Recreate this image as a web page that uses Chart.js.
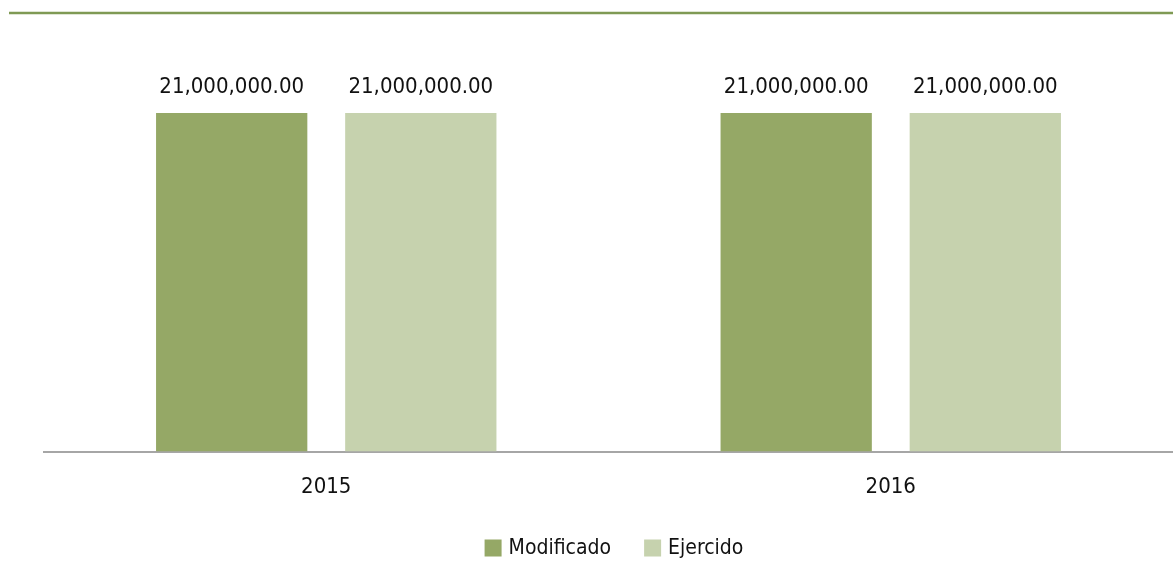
<!DOCTYPE html>
<html>
<head>
<meta charset="utf-8">
<script src="https://cdn.jsdelivr.net/npm/chart.js@4/dist/chart.umd.min.js"></script>
<style>
html,body{margin:0;padding:0;background:#fff;}
#wrap{width:1173px;height:562px;position:relative;}
</style>
</head>
<body>
<div id="wrap"><canvas id="c" width="1173" height="562"></canvas></div>
<script>
const categories = ["2015", "2016"];
const seriesNames = ["Modificado", "Ejercido"];
const modificado = [21000000, 21000000];
const ejercido = [21000000, 21000000];
const seriesColors = ["#95a866", "#c6d2ae"];

const FONT = '"Liberation Sans Narrow", "DejaVu Sans Condensed", "Liberation Sans", sans-serif';

const fmt = v => v.toLocaleString('en-US', {minimumFractionDigits: 2, maximumFractionDigits: 2});

const decor = {
  id: 'decor',
  beforeDraw(chart) {
    const ctx = chart.ctx;
    ctx.save();
    ctx.strokeStyle = '#7f9a54';
    ctx.lineWidth = 2.5;
    ctx.beginPath();
    ctx.moveTo(9, 13);
    ctx.lineTo(1173, 13);
    ctx.stroke();
    ctx.restore();
  },
  afterDatasetsDraw(chart) {
    const ctx = chart.ctx;
    ctx.save();
    ctx.font = '22px ' + FONT;
    ctx.fillStyle = '#111';
    ctx.textAlign = 'center';
    ctx.textBaseline = 'alphabetic';
    chart.data.datasets.forEach((ds, i) => {
      chart.getDatasetMeta(i).data.forEach((bar, j) => {
        ctx.fillText(fmt(ds.data[j]), bar.x, bar.y - 20);
      });
    });
    // legend
    ctx.font = '21px ' + FONT;
    ctx.textBaseline = 'middle';
    ctx.textAlign = 'left';
    const box = 17, gapBoxText = 7, gapItems = 33;
    const widths = chart.data.datasets.map(ds => box + gapBoxText + ctx.measureText(ds.label).width);
    const total = widths.reduce((a, b) => a + b, 0) + gapItems * (widths.length - 1);
    let x = 614 - total / 2;
    const cy = 548;
    chart.data.datasets.forEach((ds, i) => {
      ctx.fillStyle = ds.backgroundColor;
      ctx.fillRect(x, cy - box / 2, box, box);
      ctx.fillStyle = '#111';
      ctx.fillText(ds.label, x + box + gapBoxText, cy + 1);
      x += widths[i] + gapItems;
    });
    ctx.restore();
  }
};

new Chart(document.getElementById('c'), {
  type: 'bar',
  data: {
    labels: categories,
    datasets: [
      {label: seriesNames[0], data: modificado, backgroundColor: seriesColors[0]},
      {label: seriesNames[1], data: ejercido, backgroundColor: seriesColors[1]}
    ]
  },
  options: {
    responsive: false,
    animation: false,
    devicePixelRatio: 1,
    categoryPercentage: 0.67,
    barPercentage: 0.8,
    layout: {padding: {top: 113, left: 44, right: 0, bottom: 40}},
    plugins: {legend: {display: false}, tooltip: {enabled: false}},
    scales: {
      x: {
        grid: {display: false, drawTicks: false},
        border: {display: true, color: '#a6a6a6', width: 2},
        ticks: {color: '#111', font: {family: FONT, size: 22}, padding: 22}
      },
      y: {display: false, min: 0, max: 21000000}
    }
  },
  plugins: [decor]
});
</script>
</body>
</html>
